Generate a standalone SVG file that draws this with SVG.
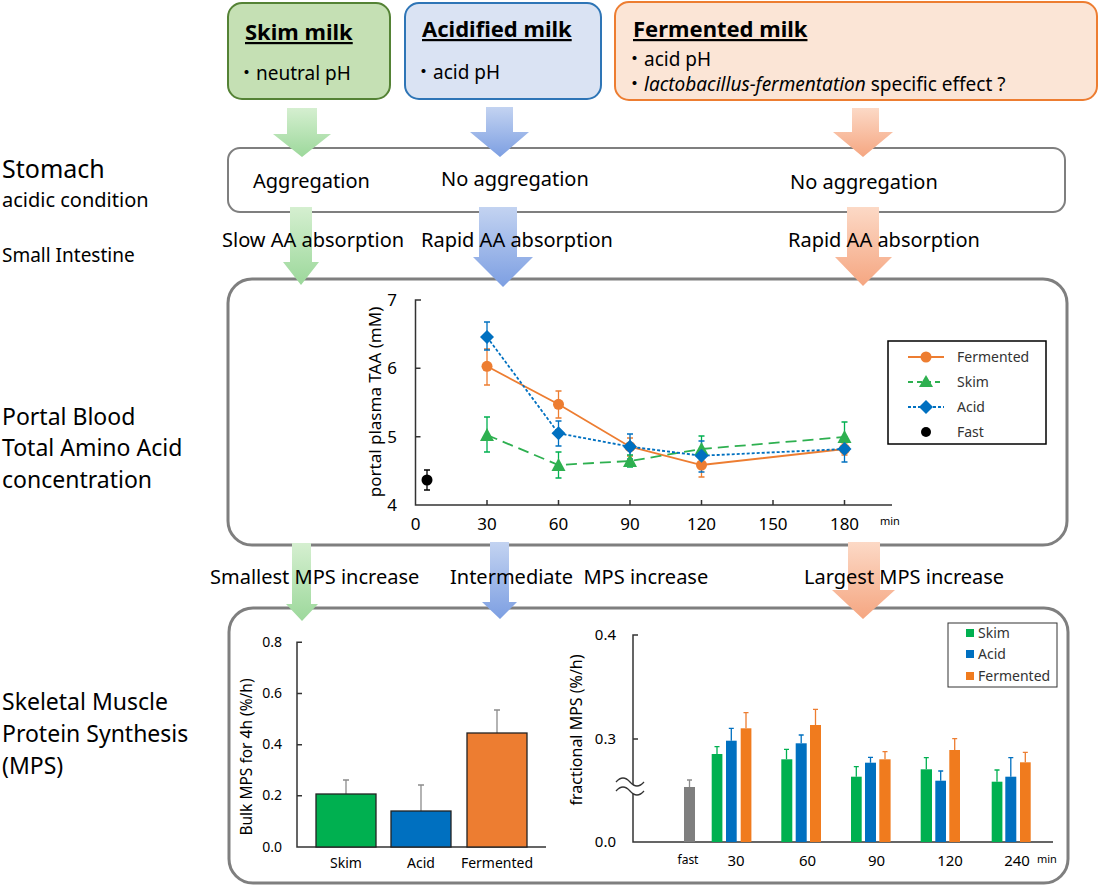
<svg xmlns="http://www.w3.org/2000/svg" width="1101" height="886" viewBox="0 0 1101 886">
<style>
text{font-family:"Noto Sans","Noto Sans CJK JP",sans-serif;fill:#000}
.ttl{font-size:22px;font-weight:bold;text-decoration:underline}
.sub{font-size:19px}
.lbl{font-size:20px}
.side{font-size:23px}
.box{fill:none;stroke:#7f7f7f}
.ax{stroke:#333;stroke-width:1.5;fill:none}
.tk{font-size:17px;fill:#333}
.lg{font-size:14px;fill:#333}
.g{fill:#00b050}.b{fill:#0070c0}.o{fill:#ed7d31}.gr{fill:#7f7f7f}
.eg{stroke:#00b050;stroke-width:1.3;fill:none}
.eb{stroke:#0070c0;stroke-width:1.3;fill:none}
.eo{stroke:#ed7d31;stroke-width:1.3;fill:none}
.ek{stroke:#000;stroke-width:1.3;fill:none}
.egy{stroke:#8c8c8c;stroke-width:1.3;fill:none}
.ln-o{stroke:#ed7d31;stroke-width:1.8;fill:none}
.ln-g{stroke:#2eb050;stroke-width:1.8;fill:none;stroke-dasharray:11 6}
.ln-b{stroke:#0070c0;stroke-width:1.8;fill:none;stroke-dasharray:3 2}
</style>
<defs>
<linearGradient id="gg" x1="0" y1="0" x2="0" y2="1"><stop offset="0" stop-color="#d5efd0"/><stop offset="1" stop-color="#9cd89b"/></linearGradient>
<linearGradient id="gb" x1="0" y1="0" x2="0" y2="1"><stop offset="0" stop-color="#c3d3f1"/><stop offset="1" stop-color="#7d9fe2"/></linearGradient>
<linearGradient id="go" x1="0" y1="0" x2="0" y2="1"><stop offset="0" stop-color="#fcd9c6"/><stop offset="1" stop-color="#f5a681"/></linearGradient>
</defs>

<!-- top boxes -->
<g id="skim-milk">
<rect x="228" y="3" width="162" height="96" rx="14" fill="#c5e0b4" stroke="#548235" stroke-width="2"/>
<text class="ttl" x="245" y="40">Skim milk</text>
<text class="sub" x="237" y="80">・neutral pH</text>
</g>
<g id="acidified-milk">
<rect x="405" y="3" width="196" height="96" rx="14" fill="#dae3f3" stroke="#2e75b6" stroke-width="2"/>
<text class="ttl" x="422" y="37">Acidified milk</text>
<text class="sub" x="414" y="79">・acid pH</text>
</g>
<g id="fermented-milk">
<rect x="615" y="2" width="482" height="98" rx="14" fill="#fbe5d6" stroke="#ed7d31" stroke-width="2"/>
<text class="ttl" x="633" y="37">Fermented milk</text>
<text class="sub" x="625" y="66">・acid pH</text>
<text class="sub" x="625" y="91">・<tspan font-style="italic">lactobacillus-fermentation</tspan> specific effect ?</text>
</g>

<!-- stage boxes -->
<g id="stomach">
<rect class="box" x="228" y="148" width="837" height="64" rx="12" stroke-width="2"/>
</g>
<g id="portal-blood">
<rect class="box" x="228" y="279" width="839" height="266" rx="24" stroke-width="3"/>
</g>
<g id="mps">
<rect class="box" x="229" y="608" width="839" height="275" rx="24" stroke-width="3"/>
</g>

<!-- connectors -->
<g id="connectors">
<polygon fill="url(#gg)" points="287,108 317,108 317,134 331,134 302,157 273,134 287,134"/>
<polygon fill="url(#gg)" points="290,207 312,207 312,262 319,262 301,285 283,262 290,262"/>
<polygon fill="url(#gg)" points="292,543 311,543 311,604 318,604 302,621 286,604 292,604"/>
<polygon fill="url(#gb)" points="486,107 513,107 513,132 529,132 500,157 470,132 486,132"/>
<polygon fill="url(#gb)" points="479,207 517,207 517,257 533,257 503,287 473,257 479,257"/>
<polygon fill="url(#gb)" points="490,542 509,542 509,602 517,602 500,619 482,602 490,602"/>
<polygon fill="url(#go)" points="852,108 879,108 879,132 893,132 863,157 833,132 852,132"/>
<polygon fill="url(#go)" points="847,207 879,207 879,257 892,257 863,286 835,257 847,257"/>
<polygon fill="url(#go)" points="848,542 880,542 880,590 895,590 863,619 832,590 848,590"/>
</g>

<!-- side labels -->
<g id="side-labels">
<text x="2" y="178" font-size="25">Stomach</text>
<text x="2" y="207" font-size="20">acidic condition</text>
<text x="2" y="262" font-size="19">Small Intestine</text>
<text class="side" x="2" y="425">Portal Blood</text>
<text class="side" x="2" y="456">Total Amino Acid</text>
<text class="side" x="2" y="488">concentration</text>
<text class="side" x="2" y="710">Skeletal Muscle</text>
<text class="side" x="2" y="742">Protein Synthesis</text>
<text class="side" x="2" y="774">(MPS)</text>
</g>

<!-- stage labels -->
<g id="stage-labels">
<text class="lbl" x="253" y="188">Aggregation</text>
<text class="lbl" x="441" y="186">No aggregation</text>
<text class="lbl" x="790" y="189">No aggregation</text>
<text class="lbl" x="222" y="247">Slow AA absorption</text>
<text class="lbl" x="421" y="247">Rapid AA absorption</text>
<text class="lbl" x="788" y="247">Rapid AA absorption</text>
<text class="lbl" x="210" y="584">Smallest MPS increase</text>
<text class="lbl" x="450" y="584" xml:space="preserve">Intermediate  MPS increase</text>
<text class="lbl" x="804" y="584">Largest MPS increase</text>
</g>

<!-- line chart -->
<g id="line-chart">
<path class="ax" d="M421,300 H415.5 V505 H892"/>
<path class="ax" d="M415.5,368.3 h5 M415.5,436.7 h5 M487,505 v-5 M558.5,505 v-5 M630,505 v-5 M701.5,505 v-5 M773,505 v-5 M844.5,505 v-5"/>
<g class="tk" text-anchor="end">
<text x="397" y="306">7</text><text x="397" y="374">6</text><text x="397" y="443">5</text><text x="397" y="511">4</text>
</g>
<g class="tk" text-anchor="middle">
<text x="415.5" y="530">0</text><text x="487" y="530">30</text><text x="558.5" y="530">60</text><text x="630" y="530">90</text><text x="701.5" y="530">120</text><text x="773" y="530">150</text><text x="844.5" y="530">180</text>
</g>
<text x="880" y="525" font-size="11" fill="#333">min</text>
<text transform="translate(381,402) rotate(-90)" text-anchor="middle" font-size="17" fill="#333">portal plasma TAA (mM)</text>
<!-- error bars -->
<path class="eo" d="M487,349V385M484,349h6M484,385h6 M558.5,391V418M555.5,391h6M555.5,418h6 M630,438V456M627,438h6M627,456h6 M701.5,454V477M698.5,454h6M698.5,477h6 M844.5,443V455M841.5,443h6M841.5,455h6"/>
<path class="eg" d="M487,417V452M484,417h6M484,452h6 M558.5,452V478M555.5,452h6M555.5,478h6 M630,455V467M627,455h6M627,467h6 M701.5,436V458M698.5,436h6M698.5,458h6 M844.5,422V451M841.5,422h6M841.5,451h6"/>
<path class="eb" d="M487,322V350M484,322h6M484,350h6 M558.5,421V446M555.5,421h6M555.5,446h6 M630,434V459M627,434h6M627,459h6 M701.5,441V472M698.5,441h6M698.5,472h6 M844.5,437V462M841.5,437h6M841.5,462h6"/>
<path class="ek" d="M427,470V490M424,470h6M424,490h6"/>
<!-- lines -->
<polyline class="ln-o" points="487,366.3 558.5,404.3 630,446.7 701.5,465 844.5,449"/>
<polyline class="ln-g" points="487,435 558.5,465 630,461 701.5,449 844.5,437"/>
<polyline class="ln-b" points="487,337 558.5,433.3 630,446.7 701.5,455.7 844.5,449"/>
<!-- markers -->
<g class="o"><circle cx="487" cy="366.3" r="5.5"/><circle cx="558.5" cy="404.3" r="5.5"/><circle cx="630" cy="446.7" r="5.5"/><circle cx="701.5" cy="465" r="5.5"/><circle cx="844.5" cy="449" r="5.5"/></g>
<g fill="#2eb050"><polygon points="487,428 494,441 480,441"/><polygon points="558.5,458 565.5,471 551.5,471"/><polygon points="630,454 637,467 623,467"/><polygon points="701.5,442 708.5,455 694.5,455"/><polygon points="844.5,430 851.5,443 837.5,443"/></g>
<g class="b"><polygon points="487,330 494,337 487,344 480,337"/><polygon points="558.5,426.3 565.5,433.3 558.5,440.3 551.5,433.3"/><polygon points="630,439.7 637,446.7 630,453.7 623,446.7"/><polygon points="701.5,448.7 708.5,455.7 701.5,462.7 694.5,455.7"/><polygon points="844.5,442 851.5,449 844.5,456 837.5,449"/></g>
<circle cx="427" cy="480" r="5.5" fill="#000"/>
<!-- legend -->
<rect x="888" y="341" width="158" height="103" fill="#fff" stroke="#000" stroke-width="1.5"/>
<line class="ln-o" x1="908" y1="357" x2="944" y2="357"/><circle cx="926" cy="357" r="5.5" class="o"/>
<line class="ln-g" x1="908" y1="382" x2="944" y2="382" style="stroke-dasharray:5 4"/><polygon points="926,375 933,387 919,387" fill="#2eb050"/>
<line class="ln-b" x1="908" y1="407" x2="944" y2="407"/><polygon points="926,400 933,407 926,414 919,407" class="b"/>
<circle cx="926" cy="432" r="5" fill="#000"/>
<text class="lg" x="957" y="362">Fermented</text>
<text class="lg" x="957" y="387">Skim</text>
<text class="lg" x="957" y="412">Acid</text>
<text class="lg" x="957" y="437">Fast</text>
</g>

<!-- bulk MPS bar chart -->
<g id="bulk-mps-chart">
<path class="ax" d="M302,642.3 H297 V847 H546"/>
<path class="ax" d="M297,693.5 h5 M297,744.7 h5 M297,795.8 h5"/>
<g font-size="14" fill="#808080" text-anchor="end">
<text x="282" y="647">0.8</text><text x="282" y="698">0.6</text><text x="282" y="749">0.4</text><text x="282" y="800">0.2</text><text x="282" y="852">0.0</text>
</g>
<text transform="translate(252,757) rotate(-90)" text-anchor="middle" font-size="15.5" fill="#808080">Bulk MPS for 4h (%/h)</text>
<path class="egy" d="M346,794V780M343,780h6 M421,811V785M418,785h6 M497,733V710M494,710h6"/>
<rect x="316" y="794" width="60" height="53" class="g" stroke="#222" stroke-width="1.3"/>
<rect x="391" y="811" width="60" height="36" class="b" stroke="#222" stroke-width="1.3"/>
<rect x="467" y="733" width="60" height="114" class="o" stroke="#222" stroke-width="1.3"/>
<g font-size="14" text-anchor="middle" fill="#222">
<text x="346" y="868">Skim</text><text x="421" y="868">Acid</text><text x="497" y="868">Fermented</text>
</g>
</g>

<!-- fractional MPS bar chart -->
<g id="fractional-mps-chart">
<path class="ax" d="M638,635 H633 V842 H1053"/>
<path class="ax" d="M633,739 h5"/>
<path d="M616,782 q7,-8 14,0 t14,0 L644,791 q-7,8 -14,0 t-14,0 Z" fill="#fff"/>
<path d="M616,782 q7,-8 14,0 t14,0 M616,791 q7,-8 14,0 t14,0" stroke="#333" stroke-width="1.3" fill="none"/>
<g font-size="15" fill="#333" text-anchor="end">
<text x="616" y="640">0.4</text><text x="616" y="744">0.3</text><text x="616" y="847">0.0</text>
</g>
<text transform="translate(582,730) rotate(-90)" text-anchor="middle" font-size="16" fill="#333">fractional MPS (%/h)</text>
<path class="egy" d="M689.5,787V780M687,780h5"/>
<path class="eg" d="M717,754V746.7M714.5,746.7h5 M786.5,759.3V749.3M784,749.3h5 M856.3,776.7V766.7M853.8,766.7h5 M926.3,769.3V757.7M923.8,757.7h5 M997,781.7V770M994.5,770h5"/>
<path class="eb" d="M731.3,740.7V728.3M728.8,728.3h5 M801.2,743.3V735M798.7,735h5 M870.5,762.7V757.3M868,757.3h5 M940.7,780.7V771M938.2,771h5 M1010.8,776.7V757.7M1008.3,757.7h5"/>
<path class="eo" d="M746,728.3V712.7M743.5,712.7h5 M815.5,725V709.3M813,709.3h5 M885,759.3V751.7M882.5,751.7h5 M954.7,750V738.7M952.2,738.7h5 M1025.3,762.3V752.3M1022.8,752.3h5"/>
<rect x="684" y="787" width="11" height="55" class="gr"/>
<g class="g"><rect x="711.7" y="754" width="10.7" height="88"/><rect x="781.3" y="759.3" width="11" height="82.7"/><rect x="851" y="776.7" width="10.7" height="65.3"/><rect x="920.7" y="769.3" width="11.3" height="72.7"/><rect x="991.7" y="781.7" width="10.7" height="60.3"/></g>
<g class="b"><rect x="726" y="740.7" width="10.7" height="101.3"/><rect x="795.7" y="743.3" width="11" height="98.7"/><rect x="865" y="762.7" width="11" height="79.3"/><rect x="935.3" y="780.7" width="10.7" height="61.3"/><rect x="1005.3" y="776.7" width="11" height="65.3"/></g>
<g fill="#f07b1e"><rect x="740.7" y="728.3" width="10.7" height="113.7"/><rect x="810" y="725" width="11" height="117"/><rect x="879.3" y="759.3" width="11.3" height="82.7"/><rect x="949.3" y="750" width="10.7" height="92"/><rect x="1020" y="762.3" width="10.7" height="79.7"/></g>
<text x="688" y="864" font-size="12" text-anchor="middle" fill="#333">fast</text>
<g font-size="15" text-anchor="middle" fill="#333">
<text x="736" y="866">30</text><text x="807.5" y="866">60</text><text x="876.5" y="866">90</text><text x="950" y="866">120</text><text x="1017" y="866">240</text>
</g>
<text x="1037" y="863" font-size="11" fill="#333">min</text>
<rect x="948" y="623" width="109" height="64" fill="#fff" stroke="#333" stroke-width="1"/>
<rect x="966" y="629" width="8" height="8" class="g"/>
<rect x="966" y="650" width="8" height="8" class="b"/>
<rect x="966" y="672" width="8" height="8" fill="#f07b1e"/>
<text class="lg" x="978" y="638">Skim</text>
<text class="lg" x="978" y="659">Acid</text>
<text class="lg" x="978" y="681">Fermented</text>
</g>
</svg>
